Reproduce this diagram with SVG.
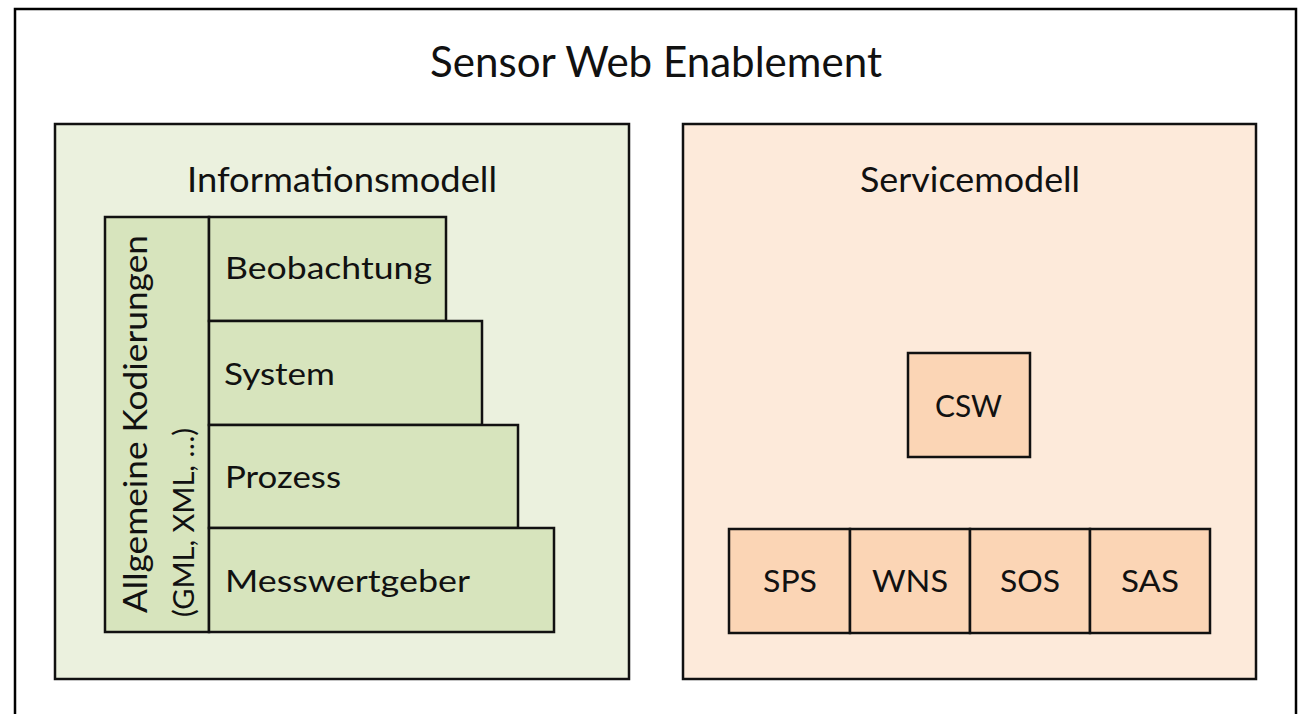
<svg xmlns="http://www.w3.org/2000/svg" width="1299" height="714" viewBox="0 0 1299 714">
  <style>
    text { font-family: Lato, "Liberation Sans", Arial, sans-serif; fill: #111; }
    .frame { fill: #ffffff; stroke: #000; stroke-width: 2.5; }
    .panel { stroke: #111; stroke-width: 2.5; }
    .green { fill: #EBF1DE; }
    .green2 { fill: #D7E4BD; }
    .peach { fill: #FDEADA; }
    .peach2 { fill: #FBD5B5; }
    .box { stroke: #111; stroke-width: 2.5; }
    .title { font-size: 42px; }
    .head { font-size: 35px; }
    .lbl { font-size: 31px; }
  </style>
  <rect x="15" y="9" width="1281" height="720" class="frame"/>
  <g id="title">
    <text x="430" y="77" class="title" textLength="452" lengthAdjust="spacingAndGlyphs">Sensor Web Enablement</text>
  </g>
  <g id="informationsmodell">
    <rect x="55" y="124" width="574" height="555" class="panel green"/>
    <text x="187" y="192" class="head" textLength="310" lengthAdjust="spacingAndGlyphs">Informationsmodell</text>
  </g>
  <g id="allgemeine-kodierungen">
    <rect x="105" y="217" width="104" height="415" class="box green2"/>
    <text transform="translate(147,613) rotate(-90)" x="0" y="0" style="font-size:33px" textLength="378" lengthAdjust="spacingAndGlyphs">Allgemeine Kodierungen</text>
    <text transform="translate(194,617) rotate(-90)" x="0" y="0" style="font-size:28px" textLength="189" lengthAdjust="spacingAndGlyphs">(GML, XML, …)</text>
  </g>
  <g id="beobachtung">
    <rect x="209" y="217" width="237" height="104" class="box green2"/>
    <text x="225" y="279" class="lbl" textLength="207" lengthAdjust="spacingAndGlyphs">Beobachtung</text>
  </g>
  <g id="system">
    <rect x="209" y="321" width="273" height="104" class="box green2"/>
    <text x="224" y="385" class="lbl" textLength="111" lengthAdjust="spacingAndGlyphs">System</text>
  </g>
  <g id="prozess">
    <rect x="209" y="425" width="309" height="103" class="box green2"/>
    <text x="225" y="488" class="lbl" textLength="116" lengthAdjust="spacingAndGlyphs">Prozess</text>
  </g>
  <g id="messwertgeber">
    <rect x="209" y="528" width="345" height="104" class="box green2"/>
    <text x="225" y="592" class="lbl" textLength="245" lengthAdjust="spacingAndGlyphs">Messwertgeber</text>
  </g>
  <g id="servicemodell">
    <rect x="683" y="124" width="573" height="555" class="panel peach"/>
    <text x="860" y="192" class="head" textLength="220" lengthAdjust="spacingAndGlyphs">Servicemodell</text>
  </g>
  <g id="csw">
    <rect x="908" y="353" width="122" height="104" class="box peach2"/>
    <text x="935" y="417" class="lbl" textLength="67" lengthAdjust="spacingAndGlyphs">CSW</text>
  </g>
  <g id="sps">
    <rect x="729" y="529" width="121" height="104" class="box peach2"/>
    <text x="763" y="592" class="lbl" textLength="54" lengthAdjust="spacingAndGlyphs">SPS</text>
  </g>
  <g id="wns">
    <rect x="850" y="529" width="120" height="104" class="box peach2"/>
    <text x="872" y="592" class="lbl" textLength="76" lengthAdjust="spacingAndGlyphs">WNS</text>
  </g>
  <g id="sos">
    <rect x="970" y="529" width="120" height="104" class="box peach2"/>
    <text x="1000" y="592" class="lbl" textLength="60" lengthAdjust="spacingAndGlyphs">SOS</text>
  </g>
  <g id="sas">
    <rect x="1090" y="529" width="120" height="104" class="box peach2"/>
    <text x="1121" y="592" class="lbl" textLength="58" lengthAdjust="spacingAndGlyphs">SAS</text>
  </g>
  <g id="connectors"/>
</svg>
